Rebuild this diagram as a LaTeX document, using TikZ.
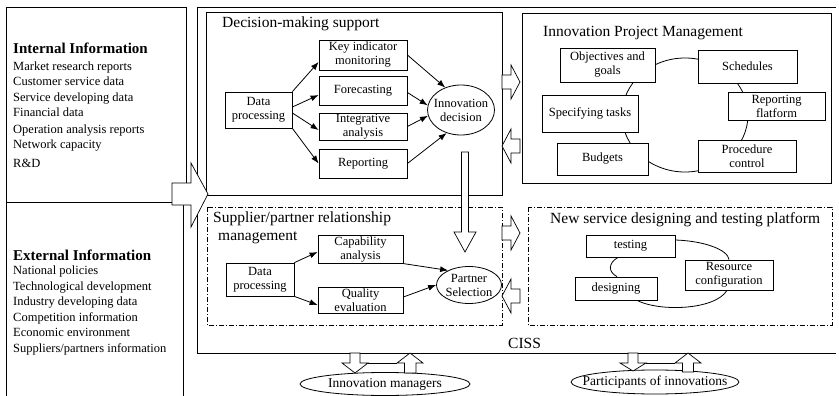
\documentclass[tikz,border=0pt]{standalone}
\usepackage{fontspec}
\setmainfont{Liberation Serif}
\usetikzlibrary{shapes.geometric,arrows.meta}
\begin{document}
\begin{tikzpicture}[x=1pt,y=-1pt,
  bx/.style={draw, line width=0.8pt, fill=white, align=center, inner sep=1pt, font=\fontsize{12.5}{14}\selectfont},
  elx/.style={draw, ellipse, line width=0.8pt, fill=white, inner sep=0pt},
  etxt/.style={align=center, inner sep=0pt, font=\fontsize{12.5}{14}\selectfont},
  arr/.style={-{Latex[length=8pt,width=6pt]}, line width=0.8pt},
  frame/.style={line width=1pt},
  dd/.style={line width=0.8pt, dash pattern=on 5pt off 2pt on 1pt off 2pt},
  blk/.style={draw, line width=0.7pt, fill=white},
  ttl/.style={font=\fontsize{15.5}{17}\selectfont, anchor=base west, inner sep=0pt},
  lst/.style={font=\fontsize{12.5}{14}\selectfont, anchor=base west, inner sep=0pt},
  hd/.style={font=\bfseries\fontsize{15}{17}\selectfont, anchor=base west, inner sep=0pt},
  ltxt/.style={font=\fontsize{13.5}{15}\selectfont, inner sep=0pt}
]
\useasboundingbox (0,0) rectangle (839,396);

% left information boxes
\draw[frame] (6,8) rectangle (186,202);
\draw[frame] (6,396) -- (6,202) -- (183,202) -- (183,396);
\node[hd] (inh) at (13,54) {Internal Information};
\foreach \t/\yy [count=\i] in {{Market research reports}/70.5, {Customer service data}/86, {Service developing data}/101.5, {Financial data}/117, {Operation analysis reports}/133, {Network capacity}/149, {R\&D}/167.5}
  \node[lst] (in\i) at (13,\yy) {\t};
\node[hd] (exh) at (13,260) {External Information};
\foreach \t/\yy [count=\i] in {{National policies}/274.5, {Technological development}/290, {Industry developing data}/305.5, {Competition information}/321, {Economic environment}/336.5, {Suppliers/partners information}/352}
  \node[lst] (ex\i) at (13,\yy) {\t};

% CISS frame
\draw[frame] (836,8) -- (197,8) -- (197,353) -- (836,353);
\node[ttl] (ciss) at (508,348) {CISS};

% sub-system frames
\draw[frame] (206,13) rectangle (502,195);
\draw[line width=0.8pt] (522,13) rectangle (831,183);
\draw[dd] (207,207) rectangle (502,325);
\draw[dd] (528,207) rectangle (832,325);

\node[ttl] (t1) at (222,28) {Decision-making support};
\node[ttl] (t2) at (543,37) {Innovation Project Management};
\node[ttl] (t3) at (213,222) {Supplier/partner relationship};
\node[ttl] (t4) at (218,240) {management};
\node[ttl] (t5) at (550,223) {New service designing and testing platform};

% Decision-making support
\node[bx, minimum width=88pt, minimum height=30pt] (key) at (363,55) {Key indicator\\monitoring};
\node[bx, minimum width=88pt, minimum height=29pt] (fore) at (363,90.5) {Forecasting};
\node[bx, minimum width=88pt, minimum height=27pt] (integ) at (363,126.5) {Integrative\\analysis};
\node[bx, minimum width=88pt, minimum height=29pt] (rep) at (363,163.5) {Reporting};
\node[bx, minimum width=67pt, minimum height=36pt] (dp1) at (258.5,110) {Data\\processing};
\node[elx, minimum width=67pt, minimum height=50pt] (dec) at (461,110) {};
\node[etxt] (dect) at (dec.center) {Innovation\\decision};

\draw[arr] (dp1.north east) -- ([yshift=-7pt]key.west);
\draw[arr] ([yshift=3pt]dp1.east) -- ([yshift=-4.5pt]fore.west);
\draw[arr] ([yshift=-3pt]dp1.east) -- ([yshift=-3.5pt]integ.west);
\draw[arr] (dp1.south east) -- (rep.west);
\draw[arr] (key.east) -- (dec.125);
\draw[arr] ([yshift=-2pt]fore.east) -- (dec.172);
\draw[arr] (integ.east) -- (dec.190);
\draw[arr] (rep.east) -- (dec.238);

% Supplier/partner relationship management
\node[bx, minimum width=85pt, minimum height=25pt] (cap) at (360.5,249.5) {Capability\\analysis};
\node[bx, minimum width=85pt, minimum height=26pt] (qual) at (360.5,300) {Quality\\evaluation};
\node[bx, minimum width=68pt, minimum height=33pt] (dp2) at (260,279.5) {Data\\processing};
\node[elx, minimum width=65pt, minimum height=37pt] (ps) at (469,285) {};
\node[etxt] (pst) at (ps.center) {Partner\\Selection};

\draw[arr] (dp2.north east) -- ([yshift=-2.5pt]cap.west);
\draw[arr] (dp2.south east) -- ([yshift=-5pt]qual.west);
\draw[arr] (cap.south east) -- (ps.145);
\draw[arr] ([yshift=3pt]qual.east) -- (ps.180);

% Innovation Project Management
\draw[line width=0.8pt] (685,115) ellipse [x radius=63pt, y radius=57pt];
\node[bx, minimum width=95pt, minimum height=34pt] (obj) at (607.5,65) {Objectives and\\goals};
\node[bx, minimum width=99pt, minimum height=33pt] (sch) at (747.5,66.5) {Schedules};
\node[bx, minimum width=97pt, minimum height=28pt] (rpf) at (776.5,106) {Reporting\\flatform};
\node[bx, minimum width=96pt, minimum height=37pt] (spec) at (590,113.5) {Specifying tasks};
\node[bx, minimum width=91pt, minimum height=32pt] (bud) at (602.5,159) {Budgets};
\node[bx, minimum width=98pt, minimum height=32pt] (proc) at (747,156) {Procedure\\control};

% New service designing and testing platform
\node[bx, minimum width=89pt, minimum height=22pt] (test) at (630.5,246) {testing};
\node[bx, minimum width=82pt, minimum height=23pt] (des) at (616,288.5) {designing};
\node[bx, minimum width=88pt, minimum height=30pt] (res) at (729,275) {Resource\\configuration};
\draw[line width=0.8pt] ([xshift=-12.5pt]test.south) .. controls (608,263) and (608,272) .. ([xshift=1pt]des.north);
\draw[line width=0.8pt] ([yshift=6pt]test.east) .. controls (705,241) and (728,250) .. (res.north);
\draw[line width=0.8pt] ([xshift=21pt]des.south) .. controls (660,312) and (715,310) .. ([xshift=-2pt]res.south);

% block arrows
\draw[blk] (172,183) -- (191,183) -- (191,163) -- (208,194) -- (191,227) -- (191,205) -- (172,205) -- cycle;
\draw[blk] (502,75) -- (511,75) -- (511,65) -- (520,82) -- (511,99) -- (511,89) -- (502,89) -- cycle;
\draw[blk] (520,139) -- (511,139) -- (511,129) -- (502,146) -- (511,163) -- (511,153) -- (520,153) -- cycle;
\draw[blk] (502,226) -- (511,226) -- (511,216) -- (520,233) -- (511,250) -- (511,240) -- (502,240) -- cycle;
\draw[blk] (520,289) -- (511,289) -- (511,279) -- (502,296) -- (511,313) -- (511,303) -- (520,303) -- cycle;
\draw[blk] (461.5,152) -- (468.5,152) -- (468.5,232) -- (476,232) -- (465,252) -- (454,232) -- (461.5,232) -- cycle;

% external actors
\node[draw, ellipse, line width=0.8pt, minimum width=170pt, minimum height=23pt, inner sep=0pt] (mgr) at (385,384) {};
\node[ltxt] (mgrt) at (mgr.center) {Innovation managers};
\node[draw, ellipse, line width=0.8pt, minimum width=168pt, minimum height=24pt, inner sep=0pt] (par) at (655,382) {};
\node[ltxt] (part) at (par.center) {Participants of innovations};

\draw[blk] (350,353) -- (360,353) -- (360,363) -- (368,363) -- (355,373) -- (342,363) -- (350,363) -- cycle;
\draw[blk] (404.5,373) -- (416,373) -- (416,363) -- (423,363) -- (410,353) -- (397,363) -- (404.5,363) -- cycle;
\draw[line width=0.7pt] (368,363) -- (397,363);
\draw[blk] (628,353) -- (638,353) -- (638,363) -- (646,363) -- (633,371) -- (620,363) -- (628,363) -- cycle;
\draw[blk] (682.5,372) -- (693.5,372) -- (693.5,363) -- (701,363) -- (688,353) -- (675,363) -- (682.5,363) -- cycle;
\draw[line width=0.7pt] (646,363) -- (675,363);
\end{tikzpicture}
\end{document}
